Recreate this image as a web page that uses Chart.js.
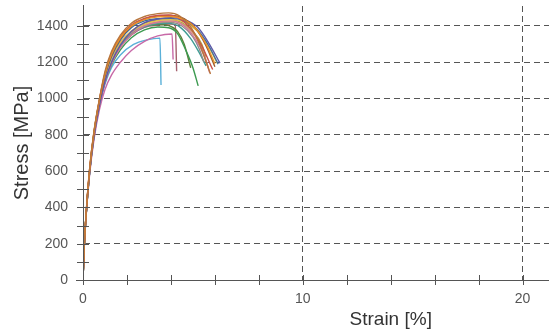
<!DOCTYPE html>
<html>
<head>
<meta charset="utf-8">
<script src="https://cdn.jsdelivr.net/npm/chart.js@4/dist/chart.umd.min.js"></script>
<style>
html,body{margin:0;padding:0;background:#fff;}
canvas{display:block;}
</style>
</head>
<body>
<canvas id="c" width="549" height="333"></canvas>
<script>
// ---- Data: [strain %, stress MPa] pairs per specimen ----
const specBrown = [[0,0],[0.05,170],[0.15,380],[0.3,610],[0.5,820],[0.75,1000],[1.0,1150],[1.3,1260],[1.7,1350],[2.2,1415],[2.8,1452],[3.4,1468],[3.9,1472],[4.4,1455],[4.9,1395],[5.3,1300],[5.8,1135]];
const specRed = [[0,0],[0.05,170],[0.15,380],[0.3,610],[0.5,815],[0.75,995],[1.0,1140],[1.3,1250],[1.7,1340],[2.2,1405],[2.8,1442],[3.4,1458],[3.9,1460],[4.4,1440],[4.9,1385],[5.4,1290],[5.9,1160]];
const specOrange = [[0,0],[0.05,170],[0.15,380],[0.3,608],[0.5,815],[0.75,995],[1.0,1135],[1.3,1245],[1.7,1335],[2.2,1400],[2.8,1435],[3.4,1450],[4.0,1452],[4.6,1435],[5.1,1390],[5.6,1300],[6.0,1192]];
const specDarkBrown = [[0,0],[0.05,168],[0.15,378],[0.3,605],[0.5,812],[0.75,990],[1.0,1130],[1.3,1240],[1.7,1330],[2.2,1398],[2.8,1440],[3.4,1455],[4.0,1458],[4.6,1440],[5.1,1390],[5.6,1290],[6.0,1175]];
const specPurple = [[0,0],[0.05,165],[0.15,370],[0.3,590],[0.5,790],[0.75,965],[1.0,1095],[1.3,1200],[1.7,1295],[2.2,1370],[2.8,1418],[3.4,1438],[4.0,1446],[4.6,1435],[5.2,1395],[5.7,1310],[6.23,1195]];
const specBlue = [[0,0],[0.05,168],[0.15,375],[0.3,600],[0.5,808],[0.75,988],[1.0,1125],[1.3,1232],[1.7,1322],[2.2,1390],[2.8,1428],[3.4,1440],[4.0,1442],[4.6,1428],[5.2,1380],[5.7,1295],[6.15,1190]];
const specYellow = [[0,0],[0.05,170],[0.15,375],[0.3,600],[0.5,810],[0.75,985],[1.0,1120],[1.3,1225],[1.7,1310],[2.2,1372],[2.8,1410],[3.4,1430],[4.0,1436],[4.6,1422],[5.2,1372],[5.7,1290],[6.1,1195]];
const specMauve = [[0,0],[0.05,165],[0.15,368],[0.3,590],[0.5,792],[0.75,965],[1.0,1090],[1.3,1190],[1.7,1280],[2.2,1350],[2.8,1400],[3.4,1422],[4.0,1428],[4.6,1400],[5.1,1330],[5.5,1240],[5.77,1141]];
const specTan = [[0,0],[0.05,168],[0.15,372],[0.3,598],[0.5,805],[0.75,982],[1.0,1115],[1.3,1220],[1.7,1305],[2.2,1366],[2.8,1405],[3.4,1422],[4.0,1425],[4.6,1405],[5.1,1345],[5.45,1265],[5.7,1170]];
const specGray = [[0,0],[0.05,168],[0.15,372],[0.3,596],[0.5,802],[0.75,978],[1.0,1110],[1.3,1214],[1.7,1298],[2.2,1360],[2.8,1400],[3.4,1418],[4.0,1420],[4.5,1400],[5.0,1340],[5.3,1270],[5.5,1200]];
const specTeal = [[0,0],[0.05,166],[0.15,370],[0.3,594],[0.5,800],[0.75,975],[1.0,1105],[1.3,1208],[1.7,1292],[2.2,1355],[2.8,1395],[3.4,1412],[3.9,1414],[4.4,1395],[4.9,1330],[5.3,1250],[5.6,1180]];
const specOlive = [[0,0],[0.05,168],[0.15,374],[0.3,598],[0.5,806],[0.75,982],[1.0,1116],[1.3,1222],[1.7,1306],[2.2,1370],[2.8,1415],[3.4,1432],[4.0,1435],[4.5,1418],[5.0,1370],[5.4,1300],[5.6,1230]];
const specGreen = [[0,0],[0.05,165],[0.15,370],[0.3,592],[0.5,795],[0.75,965],[1.0,1090],[1.3,1185],[1.7,1268],[2.2,1335],[2.8,1378],[3.4,1394],[3.9,1390],[4.3,1358],[4.7,1260],[5.0,1170],[5.24,1070]];
const specDarkGreen = [[0,0],[0.05,166],[0.15,372],[0.3,596],[0.5,802],[0.75,975],[1.0,1106],[1.3,1205],[1.7,1290],[2.2,1355],[2.8,1398],[3.4,1408],[3.9,1402],[4.3,1370],[4.6,1300],[4.9,1169]];
const specRose = [[0,0],[0.05,166],[0.15,372],[0.3,596],[0.5,800],[0.75,972],[1.0,1102],[1.3,1200],[1.7,1285],[2.2,1350],[2.8,1392],[3.4,1405],[4.0,1410],[4.2,1405],[4.26,1150]];
const specPink = [[0,0],[0.05,162],[0.15,365],[0.3,580],[0.5,775],[0.75,940],[1.0,1050],[1.3,1130],[1.7,1200],[2.2,1265],[2.8,1315],[3.4,1345],[4.05,1356],[4.1,1215]];
const specCyan = [[0,0],[0.05,168],[0.15,375],[0.3,595],[0.5,790],[0.75,960],[1.0,1080],[1.3,1172],[1.7,1240],[2.3,1298],[2.9,1323],[3.5,1333],[3.55,1075]];

const specimens = [specBrown, specOrange, specRed, specDarkBrown, specPurple, specBlue, specYellow, specMauve, specTan, specGray, specTeal, specOlive, specGreen, specDarkGreen, specRose, specPink, specCyan];
const specimenColors = ['#b8763e','#e8922a','#c9514a','#9a5a30','#5d5aa8','#3f6e9e','#e6c24e','#d4789a','#cfa678','#8c8c8c','#3e9c94','#b0a040','#3c9a50','#5e7f3a','#a5606e','#c86aa8','#5ab0d8'];

const xTicks = [0,2,4,6,8,10,12,14,16,18,20];
const yTicks = [0,100,200,300,400,500,600,700,800,900,1000,1100,1200,1300,1400];
const xLabelTicks = [0,10,20];
const yLabelTicks = [0,200,400,600,800,1000,1200,1400];
const xTitle = 'Strain [%]';
const yTitle = 'Stress [MPa]';

const FONT = '"Liberation Sans", Arial, Helvetica, sans-serif';

const axisPlugin = {
  id: 'axisPlugin',
  afterDraw(chart) {
    const ctx = chart.ctx;
    const xs = chart.scales.x, ys = chart.scales.y;
    const x0 = xs.getPixelForValue(0), y0 = ys.getPixelForValue(0);
    ctx.save();
    ctx.strokeStyle = '#555';
    ctx.lineWidth = 1;
    ctx.beginPath();
    ctx.moveTo(x0 - 7, Math.round(y0) + 0.5);
    ctx.lineTo(chart.width, Math.round(y0) + 0.5);
    ctx.moveTo(Math.round(x0) + 0.5, chart.chartArea.top - 1);
    ctx.lineTo(Math.round(x0) + 0.5, y0 + 5);
    xTicks.forEach(v => {
      const px = Math.round(xs.getPixelForValue(v)) + 0.5;
      ctx.moveTo(px, y0 - 5); ctx.lineTo(px, y0 + 5);
    });
    yTicks.forEach(v => {
      const py = Math.round(ys.getPixelForValue(v)) + 0.5;
      ctx.moveTo(x0 - 6, py); ctx.lineTo(x0 + 6, py);
    });
    ctx.stroke();
    ctx.fillStyle = '#333';
    ctx.font = '19px ' + FONT;
    ctx.textAlign = 'center';
    ctx.textBaseline = 'middle';
    ctx.fillText(xTitle, xs.getPixelForValue(14), 320);
    ctx.restore();
  }
};

const datasets = specimens.map((s, i) => ({
  label: 'Specimen ' + (i + 1),
  data: s.map(p => ({x: p[0], y: p[1]})),
  borderColor: specimenColors[i],
  backgroundColor: specimenColors[i],
  borderWidth: 1.4,
  pointRadius: 0,
  fill: false,
  cubicInterpolationMode: 'monotone'
}));

new Chart(document.getElementById('c'), {
  type: 'line',
  data: { datasets },
  options: {
    responsive: false,
    animation: false,
    layout: { padding: { top: 6, right: 0, bottom: 0, left: 0 } },
    plugins: { legend: { display: false }, tooltip: { enabled: false } },
    scales: {
      x: {
        type: 'linear',
        min: 0, max: 21.2,
        afterBuildTicks: s => { s.ticks = xTicks.map(v => ({value: v})); },
        afterFit: s => { s.height = 53; s.paddingLeft = 0; s.paddingRight = 0; },
        ticks: {
          autoSkip: false, maxRotation: 0,
          padding: 11,
          color: '#555',
          font: { family: FONT, size: 14 },
          callback: v => xLabelTicks.includes(v) ? String(v) : ''
        },
        grid: {
          drawTicks: false,
          lineWidth: 1,
          color: c => (c.tick && c.tick.value !== 0 && xLabelTicks.includes(c.tick.value)) ? '#555' : 'rgba(0,0,0,0)'
        },
        border: { display: true, color: '#555', width: 1, dash: [6, 4] },
        title: { display: false, text: xTitle }
      },
      y: {
        type: 'linear',
        min: 0, max: 1510,
        afterBuildTicks: s => { s.ticks = yTicks.map(v => ({value: v})); },
        afterFit: s => { s.width = 83; s.paddingTop = 0; s.paddingBottom = 0; },
        ticks: {
          autoSkip: false,
          padding: 15,
          color: '#555',
          font: { family: FONT, size: 14 },
          callback: v => yLabelTicks.includes(v) ? String(v) : ''
        },
        grid: {
          drawTicks: false,
          lineWidth: 1,
          color: c => (c.tick && c.tick.value !== 0 && yLabelTicks.includes(c.tick.value)) ? '#555' : 'rgba(0,0,0,0)'
        },
        border: { display: true, color: '#555', width: 1, dash: [6, 4] },
        title: {
          display: true, text: yTitle, color: '#333',
          font: { family: FONT, size: 20 },
          padding: { top: 10, bottom: 0 }
        }
      }
    }
  },
  plugins: [axisPlugin]
});
</script>
</body>
</html>
